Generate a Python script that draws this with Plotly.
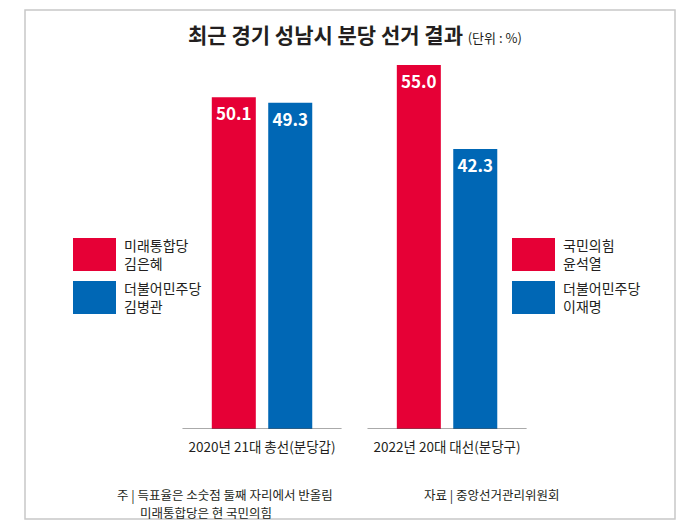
import plotly.graph_objects as go

# data
elections = ["2020년 21대 총선(분당갑)", "2022년 20대 대선(분당구)"]
red_votes = [50.1, 55.0]    # 미래통합당 김은혜 / 국민의힘 윤석열
blue_votes = [49.3, 42.3]   # 더불어민주당 김병관 / 더불어민주당 이재명
legend_left = ["미래통합당<br>김은혜", "더불어민주당<br>김병관"]
legend_right = ["국민의힘<br>윤석열", "더불어민주당<br>이재명"]

RED = "#e60036"
BLUE = "#0067b5"
INK = "#231f20"
KFONT = "Noto Sans CJK KR"

W, H = 700, 524
L, R, T, B = 25, 25, 10, 95  # plot area = frame box (pixel margins)


def px(x):
    return (x - L) / (W - L - R)


def py(y):
    return (H - B - y) / (H - T - B)


fig = go.Figure()

for vals, col in [(red_votes, RED), (blue_votes, BLUE)]:
    fig.add_trace(go.Bar(
        x=elections, y=vals,
        marker=dict(color=col, line=dict(width=0)),
        texttemplate="<b>%{y:.1f}</b>",
        textposition="inside",
        insidetextanchor="end",
        textangle=0,
        textfont=dict(color="white", size=17, family=KFONT),
        cliponaxis=False,
    ))

shapes = []
# frame
shapes.append(dict(type="rect", xref="paper", yref="paper",
                   x0=0, x1=1, y0=py(519), y1=1,
                   line=dict(color="#c8c8c8", width=1.5)))
# baselines under each group
for i in range(len(elections)):
    shapes.append(dict(type="line", xref="x", yref="y",
                       x0=i - 0.43, x1=i + 0.43, y0=0, y1=0,
                       line=dict(color="#555555", width=1)))

annotations = []
# legend boxes
for lx, labels in [(73, legend_left), (512, legend_right)]:
    for k, (lab, col) in enumerate(zip(labels, [RED, BLUE])):
        y0 = 238 + k * 43
        shapes.append(dict(type="rect", xref="paper", yref="paper",
                           x0=px(lx), x1=px(lx + 43), y0=py(y0 + 33), y1=py(y0),
                           fillcolor=col, line=dict(width=0)))
        annotations.append(dict(xref="paper", yref="paper", x=px(lx + 49), y=py(y0 + 16),
                                text=lab, showarrow=False, xanchor="left", yanchor="middle",
                                align="left", font=dict(size=14, color=INK, family=KFONT)))

# title
annotations.append(dict(xref="paper", yref="paper", x=px(355), y=py(34),
                        text="<b>최근 경기 성남시 분당 선거 결과</b> <span style='font-size:13px'>(단위 : %)</span>",
                        showarrow=False, xanchor="center", yanchor="middle",
                        font=dict(size=21, color=INK, family=KFONT)))
# notes
notes = [(115, 494, "주 | 득표율은 소숫점 둘째 자리에서 반올림"),
         (138, 512, "미래통합당은 현 국민의힘"),
         (422, 494, "자료 | 중앙선거관리위원회")]
for nx_, ny_, txt in notes:
    annotations.append(dict(xref="paper", yref="paper", x=px(nx_), y=py(ny_),
                            text=txt, showarrow=False, xanchor="left", yanchor="middle",
                            font=dict(size=12.5, color=INK, family=KFONT)))

fig.update_layout(
    width=W, height=H,
    margin=dict(l=L, r=R, t=T, b=B),
    paper_bgcolor="white", plot_bgcolor="white",
    barmode="group", bargap=0.39, bargroupgap=0.22,
    showlegend=False,
    shapes=shapes, annotations=annotations,
    xaxis=dict(type="category", range=[-1.281, 2.232], showgrid=False, zeroline=False,
               showline=False, ticks="", ticklabelstandoff=8, fixedrange=True,
               tickfont=dict(size=13.5, color=INK, family=KFONT)),
    yaxis=dict(range=[0, 419 / 6.62], visible=False, fixedrange=True),
)

# drop the default page margin so the 700x524 figure fits the window
fig.write_html("out.html", config={"displayModeBar": False},
               post_script="document.body.style.margin='0';")
